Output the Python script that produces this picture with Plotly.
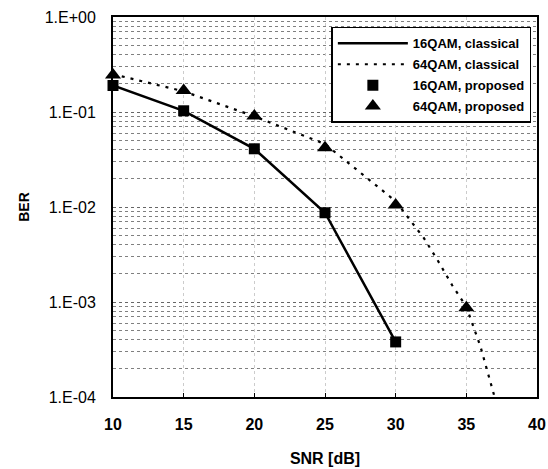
import plotly.graph_objects as go

# ---- data ----
snr_16 = [10, 15, 20, 25, 30]
ber_16_classical = [0.19, 0.103, 0.041, 0.0087, 0.00038]
ber_16_proposed = [0.19, 0.103, 0.041, 0.0087, 0.00038]

snr_64_classical = [10, 15, 20, 25, 30, 31, 32, 33, 34, 35, 36, 37]
ber_64_classical = [0.25, 0.165, 0.09, 0.046, 0.0115, 0.0073, 0.0047, 0.0027,
                    0.0015, 0.00089, 0.00034, 0.0001]

snr_64_proposed = [10, 15, 20, 25, 30, 35]
ber_64_proposed = [0.245, 0.168, 0.091, 0.042, 0.0105, 0.00087]

y_tick_vals = [1, 0.1, 0.01, 0.001, 0.0001]
y_tick_text = ["1.E+00", "1.E-01", "1.E-02", "1.E-03", "1.E-04"]
x_tick_vals = [10, 15, 20, 25, 30, 35, 40]

FONT = "Liberation Sans, Arial, sans-serif"

fig = go.Figure()
fig.add_trace(go.Scatter(
    x=snr_16, y=ber_16_classical, mode="lines", name="16QAM, classical",
    line=dict(color="black", width=2.5), legendgroup="a", cliponaxis=False))
fig.add_trace(go.Scatter(
    x=snr_64_classical, y=ber_64_classical, mode="lines", name="64QAM, classical",
    line=dict(color="black", width=2.2, dash="3px,6px"), legendgroup="b"))
fig.add_trace(go.Scatter(
    x=snr_16, y=ber_16_proposed, mode="markers", name="16QAM, proposed",
    marker=dict(symbol="square", size=11, color="black"), legendgroup="c",
    cliponaxis=False))
fig.add_trace(go.Scatter(
    x=snr_64_proposed, y=ber_64_proposed, mode="markers", name="64QAM, proposed",
    marker=dict(symbol="triangle-up", size=14, color="black"), legendgroup="d",
    cliponaxis=False))

fig.update_layout(
    width=548, height=469,
    margin=dict(l=113, r=11, t=17, b=72, autoexpand=False),
    paper_bgcolor="white", plot_bgcolor="white",
    font=dict(family=FONT, color="black", size=15),
    showlegend=True,
    legend=dict(
        x=0.515, y=0.974, xanchor="left", yanchor="top",
        bgcolor="white", bordercolor="black", borderwidth=1.5,
        font=dict(family=FONT, size=13, color="black", weight="bold"),
        itemwidth=70, tracegroupgap=1,
    ),
)

fig.update_xaxes(
    range=[10, 40], tickvals=x_tick_vals, automargin=False,
    showline=True, linecolor="black", linewidth=2, mirror=True,
    ticks="inside", ticklen=4, tickcolor="black",
    showgrid=True, gridcolor="#cccccc", griddash="dot", gridwidth=1,
    zeroline=False,
    tickfont=dict(size=16, weight="bold"), ticklabelstandoff=12,
    title=dict(text="SNR [dB]", font=dict(size=16, weight="bold"), standoff=21),
)
fig.update_yaxes(
    type="log", range=[-4, 0], tickvals=y_tick_vals, ticktext=y_tick_text,
    automargin=False,
    showline=True, linecolor="black", linewidth=2, mirror=True,
    ticks="", showgrid=True, gridcolor="#666666", griddash="dot", gridwidth=1,
    minor=dict(dtick="D1", showgrid=True, gridcolor="#808080", griddash="dot",
               gridwidth=1, ticks=""),
    zeroline=False,
    tickfont=dict(size=16), ticklabelstandoff=12,
    title=dict(text="BER", font=dict(size=14, weight="bold"), standoff=12),
)

fig.write_html("out.html",
               config={"displayModeBar": False},
               post_script="document.body.style.margin='0';"
                           "document.body.style.overflow='hidden';")
